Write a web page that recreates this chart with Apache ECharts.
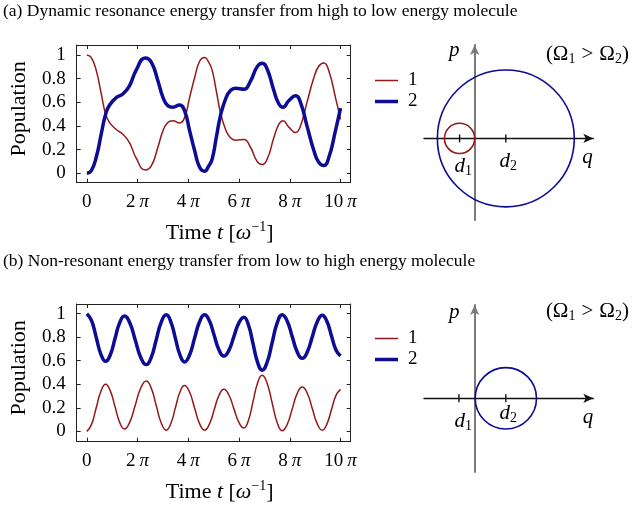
<!DOCTYPE html>
<html><head><meta charset="utf-8">
<script src="https://cdn.jsdelivr.net/npm/echarts@6/dist/echarts.min.js"></script>
<style>html,body{margin:0;padding:0;background:#fff}#c{width:636px;height:506px}</style>
</head><body><div id="c"></div>
<script>
// ---------- data (time in units of pi) ----------
const tA = [0, 0.17, 0.37, 0.57, 0.74, 0.89, 1.16, 1.42, 1.68, 1.94, 2.30, 2.54, 2.80, 3.00, 3.19, 3.39, 3.65, 3.85, 4.05, 4.25, 4.45, 4.64, 4.80, 4.94, 5.10, 5.27, 5.47, 5.66, 5.86, 6.19, 6.45, 6.71, 6.91, 7.11, 7.37, 7.57, 7.73, 7.96, 8.23, 8.42, 8.69, 8.95, 9.14, 9.34, 9.54, 9.80, 10.0];
const pop1A = [1.0, 0.98, 0.87, 0.67, 0.50, 0.43, 0.37, 0.33, 0.26, 0.13, 0.028, 0.062, 0.22, 0.36, 0.43, 0.445, 0.425, 0.47, 0.64, 0.81, 0.95, 0.98, 0.94, 0.87, 0.70, 0.51, 0.37, 0.30, 0.28, 0.285, 0.22, 0.10, 0.073, 0.12, 0.30, 0.415, 0.445, 0.39, 0.345, 0.40, 0.61, 0.81, 0.905, 0.932, 0.865, 0.64, 0.456];
const pop2A = [0, 0.02, 0.135, 0.335, 0.50, 0.575, 0.64, 0.67, 0.74, 0.87, 0.975, 0.94, 0.783, 0.642, 0.572, 0.558, 0.577, 0.53, 0.36, 0.19, 0.048, 0.017, 0.06, 0.12, 0.30, 0.49, 0.63, 0.70, 0.72, 0.71, 0.78, 0.90, 0.93, 0.88, 0.70, 0.586, 0.558, 0.614, 0.656, 0.60, 0.39, 0.19, 0.093, 0.065, 0.135, 0.36, 0.55];

const tB = [0, 0.185, 0.37, 0.555, 0.74, 0.925, 1.11, 1.295, 1.48, 1.695, 1.91, 2.125, 2.34, 2.538, 2.735, 2.933, 3.13, 3.31, 3.49, 3.67, 3.85, 4.048, 4.245, 4.443, 4.64, 4.83, 5.02, 5.21, 5.40, 5.598, 5.795, 5.993, 6.19, 6.37, 6.55, 6.73, 6.91, 7.108, 7.305, 7.503, 7.70, 7.898, 8.095, 8.293, 8.49, 8.688, 8.885, 9.083, 9.28, 9.46, 9.64, 9.82, 10.0];
const pop1B = [0, 0.059, 0.20, 0.341, 0.40, 0.344, 0.21, 0.076, 0.02, 0.08, 0.224, 0.368, 0.428, 0.367, 0.219, 0.071, 0.01, 0.066, 0.20, 0.334, 0.39, 0.334, 0.20, 0.066, 0.01, 0.061, 0.184, 0.306, 0.357, 0.309, 0.193, 0.076, 0.028, 0.094, 0.252, 0.41, 0.476, 0.407, 0.241, 0.074, 0.005, 0.059, 0.191, 0.323, 0.377, 0.324, 0.194, 0.064, 0.01, 0.061, 0.184, 0.306, 0.357];
const pop2B = [1.0, 0.941, 0.798, 0.654, 0.595, 0.651, 0.788, 0.924, 0.98, 0.92, 0.774, 0.628, 0.567, 0.629, 0.779, 0.928, 0.99, 0.931, 0.79, 0.649, 0.59, 0.649, 0.79, 0.931, 0.99, 0.939, 0.815, 0.691, 0.64, 0.688, 0.805, 0.922, 0.97, 0.904, 0.745, 0.586, 0.52, 0.589, 0.755, 0.921, 0.99, 0.936, 0.805, 0.674, 0.62, 0.674, 0.803, 0.932, 0.986, 0.935, 0.813, 0.691, 0.64];

const xTicks = [0, 2, 4, 6, 8, 10];
const xTickLabels = ['0', '2', '4', '6', '8', '10'];
const yTicks = [0, 0.2, 0.4, 0.6, 0.8, 1];
const yTickLabels = ['0', '0.2', '0.4', '0.6', '0.8', '1'];
const seriesNames = ['1', '2'];

// phase-space sketches: circle centers / radii (units of d2), molecule index
const circleCentersA = [-0.48, 0.99];
const circleRadiiA = [0.48, 2.175];
const circleMolA = [0, 1];
const dTicksA = [-0.48, 0.99];
const circleCentersB = [0.99];
const circleRadiiB = [0.975];
const circleMolB = [1];
const dTicksB = [-0.5, 0.99];

// ---------- styling ----------
const FONT = "'Liberation Serif', 'Times New Roman', serif";
const RED = '#951818', BLUE = '#0c0c94';
const MOLCOL = [RED, BLUE];
const AX = '#222';

function zip(a, b) { return a.map((v, i) => [v, b[i]]); }

function boxAxes(g, ymin, ymax) {
  const common = { type: 'value', gridIndex: g, splitLine: { show: false } };
  const xb = Object.assign({}, common, {
    position: 'bottom', min: -0.4, max: 10.4,
    axisLine: { show: true, onZero: false, lineStyle: { color: AX, width: 1 } },
    axisTick: { show: true, inside: true, length: 4, customValues: xTicks, lineStyle: { color: AX, width: 1 } },
    axisLabel: {
      show: true, customValues: xTicks, margin: 10, color: '#000', fontFamily: FONT, fontSize: 19,
      formatter: v => { const i = xTicks.indexOf(v); const s = i >= 0 ? xTickLabels[i] : String(v); return s === '0' ? '0' : s + '{p|π}'; },
      rich: { p: { fontFamily: FONT, fontSize: 19, fontStyle: 'italic', color: '#000', padding: [0, 0, 0, 4] } }
    },
    name: 'Time {i|t} [{i|ω}{s|−1}]', nameLocation: 'middle', nameGap: 38,
    nameTextStyle: {
      fontFamily: FONT, fontSize: 22, color: '#000', lineHeight: 25, padding: [0, 0, 0, 12],
      rich: {
        i: { fontFamily: FONT, fontSize: 22, fontStyle: 'italic', color: '#000', lineHeight: 25 },
        s: { fontFamily: FONT, fontSize: 14, color: '#000', lineHeight: 14, verticalAlign: 'top' }
      }
    }
  });
  const xt = Object.assign({}, common, {
    position: 'top', min: -0.4, max: 10.4,
    axisLine: { show: true, onZero: false, lineStyle: { color: AX, width: 1 } },
    axisTick: { show: true, inside: true, length: 4, customValues: xTicks, lineStyle: { color: AX, width: 1 } },
    axisLabel: { show: false }
  });
  const yl = Object.assign({}, common, {
    position: 'left', min: ymin, max: ymax,
    axisLine: { show: true, onZero: false, lineStyle: { color: AX, width: 1 } },
    axisTick: { show: true, inside: true, length: 4, customValues: yTicks, lineStyle: { color: AX, width: 1 } },
    axisLabel: {
      show: true, customValues: yTicks, margin: 11, color: '#000', fontFamily: FONT, fontSize: 19,
      formatter: v => { let k = 0; for (let i = 0; i < yTicks.length; i++) if (Math.abs(yTicks[i] - v) < 1e-6) k = i; return yTickLabels[k]; }
    },
    name: 'Population', nameLocation: 'middle', nameGap: 46,
    nameTextStyle: { fontFamily: FONT, fontSize: 22, color: '#000', padding: [0, 0, 0, 10] }
  });
  const yr = Object.assign({}, common, {
    position: 'right', min: ymin, max: ymax,
    axisLine: { show: true, onZero: false, lineStyle: { color: AX, width: 1 } },
    axisTick: { show: true, inside: true, length: 4, customValues: yTicks, lineStyle: { color: AX, width: 1 } },
    axisLabel: { show: false }
  });
  return { x: [xb, xt], y: [yl, yr] };
}

function phaseAxes(g, ymin, ymax) {
  return {
    x: {
      type: 'value', gridIndex: g, min: -1.61, max: 3.77,
      axisLine: { show: true, onZero: true, symbol: ['none', 'arrow'], symbolSize: [7, 10], lineStyle: { color: '#111', width: 1.3 } },
      axisTick: { show: false }, axisLabel: { show: false }, splitLine: { show: false }
    },
    y: {
      type: 'value', gridIndex: g, min: ymin, max: ymax,
      axisLine: { show: true, onZero: true, symbol: ['none', 'arrow'], symbolSize: [7, 10], lineStyle: { color: '#7a7a7a', width: 2 } },
      axisTick: { show: false }, axisLabel: { show: false }, splitLine: { show: false }
    }
  };
}

const bA = boxAxes(0, -0.08, 1.085);
const bB = boxAxes(1, -0.088, 1.082);
const pA = phaseAxes(2, -2.59, 2.965);
const pB = phaseAxes(3, -2.34, 2.962);

function circleSeries(ax, centers, radii, mols) {
  return {
    type: 'custom', coordinateSystem: 'cartesian2d', xAxisIndex: ax, yAxisIndex: ax, silent: true,
    data: centers.map((c, i) => [c, radii[i], mols[i]]),
    renderItem: (params, api) => {
      const c = api.coord([api.value(0), 0]);
      const r = api.size([api.value(1), 0])[0];
      return { type: 'circle', shape: { cx: c[0], cy: c[1], r: r }, style: { fill: 'none', stroke: MOLCOL[api.value(2)], lineWidth: 1.6 } };
    }
  };
}
function tickSeries(ax, ds) {
  return {
    type: 'custom', coordinateSystem: 'cartesian2d', xAxisIndex: ax, yAxisIndex: ax, silent: true, z: 5,
    data: ds.map(d => [d, 0]),
    renderItem: (params, api) => {
      const c = api.coord([api.value(0), api.value(1)]);
      return { type: 'line', shape: { x1: c[0], y1: c[1] - 4, x2: c[0], y2: c[1] + 4 }, style: { stroke: '#111', lineWidth: 1.4 } };
    }
  };
}

function txt(x, y, text, size, italic, rich, align) {
  return {
    type: 'text', silent: true,
    style: {
      x: x, y: y, text: text, align: align || 'center', verticalAlign: 'middle',
      fontFamily: FONT, fontSize: size, fontStyle: italic ? 'italic' : 'normal', fill: '#000',
      rich: rich
    }
  };
}
const dRich = {
  d: { fontFamily: FONT, fontSize: 21, fontStyle: 'italic', fill: '#000', lineHeight: 24 },
  s: { fontFamily: FONT, fontSize: 14, fill: '#000', lineHeight: 14, verticalAlign: 'bottom' }
};
const oRich = {
  m: { fontFamily: FONT, fontSize: 21, fill: '#000', lineHeight: 24 },
  g: { fontFamily: FONT, fontSize: 21, fill: '#000', lineHeight: 24, padding: [0, 6, 0, 6] },
  s: { fontFamily: FONT, fontSize: 14, fill: '#000', lineHeight: 14, verticalAlign: 'bottom' }
};
const omegaText = '{m|(Ω}{s|1}{g|>}{m|Ω}{s|2}{m|)}';

const legendCommon = {
  orient: 'vertical', left: 370, itemWidth: 23, itemHeight: 14, itemGap: 2, selectedMode: false,
  symbolKeepAspect: true,
  data: [
    { name: seriesNames[0], icon: 'path://M0,0H23V1.5H0Z' },
    { name: seriesNames[1], icon: 'path://M0,0H23V3.5H0Z' }
  ],
  textStyle: { fontFamily: FONT, fontSize: 19, color: '#000', padding: [0, 0, 0, 5] }
};

const option = {
  animation: false,
  backgroundColor: '#fff',
  grid: [
    { left: 76.7, top: 45, width: 274, height: 137.7 },
    { left: 76.7, top: 304, width: 274, height: 137.7 },
    { left: 424, top: 45, width: 169.3, height: 175 },
    { left: 424, top: 305, width: 169.3, height: 167 }
  ],
  xAxis: [bA.x[0], bA.x[1], bB.x[0], bB.x[1], pA.x, pB.x],
  yAxis: [bA.y[0], bA.y[1], bB.y[0], bB.y[1], pA.y, pB.y],
  legend: [
    Object.assign({}, legendCommon, { top: 66 }),
    Object.assign({}, legendCommon, { top: 324 })
  ],
  series: [
    { type: 'line', name: seriesNames[0], xAxisIndex: 0, yAxisIndex: 0, data: zip(tA, pop1A), smooth: true, symbol: 'none', lineStyle: { color: RED, width: 1.5 }, itemStyle: { color: RED } },
    { type: 'line', name: seriesNames[1], xAxisIndex: 0, yAxisIndex: 0, data: zip(tA, pop2A), smooth: true, symbol: 'none', lineStyle: { color: BLUE, width: 3.5 }, itemStyle: { color: BLUE } },
    { type: 'line', name: seriesNames[0], xAxisIndex: 2, yAxisIndex: 2, data: zip(tB, pop1B), smooth: true, symbol: 'none', lineStyle: { color: RED, width: 1.5 }, itemStyle: { color: RED } },
    { type: 'line', name: seriesNames[1], xAxisIndex: 2, yAxisIndex: 2, data: zip(tB, pop2B), smooth: true, symbol: 'none', lineStyle: { color: BLUE, width: 3.5 }, itemStyle: { color: BLUE } },
    circleSeries(4, circleCentersA, circleRadiiA, circleMolA),
    tickSeries(4, dTicksA),
    circleSeries(5, circleCentersB, circleRadiiB, circleMolB),
    tickSeries(5, dTicksB)
  ],
  graphic: [
    txt(3, 11.4, '(a) Dynamic resonance energy transfer from high to low energy molecule', 17.5, false, undefined, 'left'),
    txt(3, 261.4, '(b) Non-resonant energy transfer from low to high energy molecule', 17.5, false, undefined, 'left'),
    // diagram (a)
    txt(454.2, 50.8, 'p', 21, true),
    txt(587.5, 157.5, 'q', 21, true),
    txt(463.3, 166.6, '{d|d}{s|1}', 21, true, dRich),
    txt(508.3, 161.6, '{d|d}{s|2}', 21, true, dRich),
    txt(587.4, 54.7, omegaText, 21, false, oRich),
    // diagram (b)
    txt(454.2, 312.5, 'p', 21, true),
    txt(588, 417.5, 'q', 21, true),
    txt(463.3, 421.6, '{d|d}{s|1}', 21, true, dRich),
    txt(508.3, 413.3, '{d|d}{s|2}', 21, true, dRich),
    txt(587.4, 311.4, omegaText, 21, false, oRich)
  ]
};

const chart = echarts.init(document.getElementById('c'));
chart.setOption(option);
</script>
</body></html>
